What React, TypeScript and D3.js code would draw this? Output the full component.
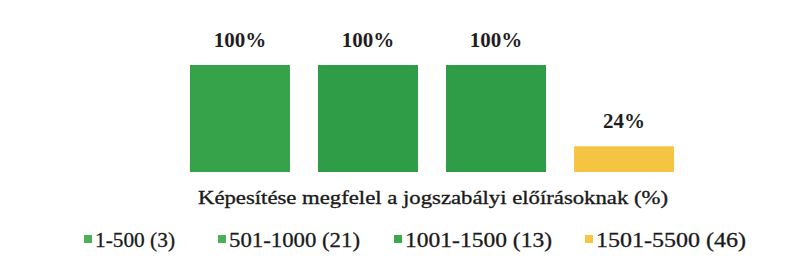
import React from "react";
import * as d3 from "d3";

const categories = ["1-500 (3)", "501-1000 (21)", "1001-1500 (13)", "1501-5500 (46)"];
const values = [100, 100, 100, 24];
const valueLabels = ["100%", "100%", "100%", "24%"];
const seriesColors = ["#36a34b", "#2f9d47", "#2f9d47", "#f6c443"];
const legendColors = ["#4caf5a", "#4caf5a", "#3aa84f", "#f8c640"];
const title = "Képesítése megfelel a jogszabályi előírásoknak (%)";

const W = 803;
const H = 273;
const legendX = [84, 218, 394, 585];
const legendW = [80, 131, 147, 150];

export default function App() {
  const x = d3.scaleBand<string>().domain(categories).range([176, 688]).paddingInner(0.219).paddingOuter(0.109);
  const y = d3.scaleLinear().domain([0, 100]).range([172, 65]);
  const fontStyle = { fontFamily: "Liberation Serif, Times New Roman, Times, serif" };
  return (
    <div style={{ position: "absolute", left: 0, top: 0 }}>
      <svg width={W} height={H} style={{ display: "block", background: "#fff" }}>
        {categories.map((c, i) => (
          <g key={c}>
            <rect
              x={x(c)!}
              y={y(values[i])}
              width={x.bandwidth()}
              height={y(0) - y(values[i])}
              fill={seriesColors[i]}
            />
            <text
              x={x(c)! + x.bandwidth() / 2}
              y={y(values[i]) - 18}
              textAnchor="middle"
              style={fontStyle}
              fontWeight="bold"
              fontSize={21}
              fill="#1e1e1e"
            >
              {valueLabels[i]}
            </text>
          </g>
        ))}
        <text
          x={433}
          y={204}
          textAnchor="middle"
          style={fontStyle}
          fontSize={19.5}
          fill="#1a1a1a"
          stroke="#1a1a1a"
          strokeWidth={0.35}
          textLength={470}
          lengthAdjust="spacingAndGlyphs"
        >
          {title}
        </text>
        {categories.map((c, i) => (
          <g key={"l" + c}>
            <rect x={legendX[i]} y={235} width={8} height={8} fill={legendColors[i]} />
            <text
              x={legendX[i] + 11}
              y={247}
              style={fontStyle}
              fontSize={21}
              fill="#1a1a1a"
              stroke="#1a1a1a"
              strokeWidth={0.3}
              textLength={legendW[i]}
              lengthAdjust="spacingAndGlyphs"
            >
              {c}
            </text>
          </g>
        ))}
      </svg>
    </div>
  );
}
